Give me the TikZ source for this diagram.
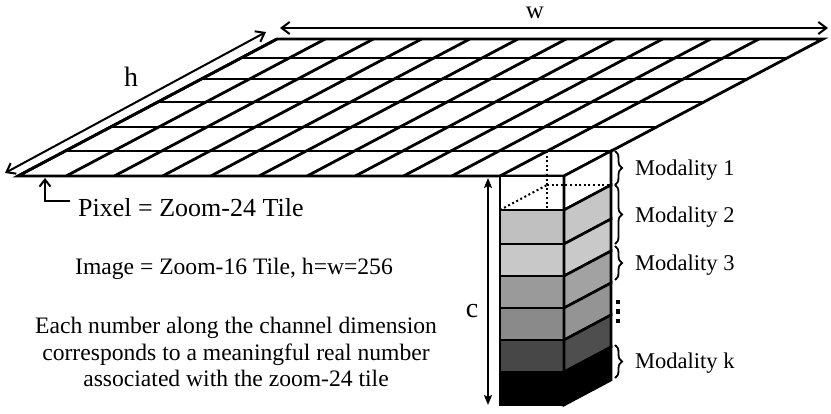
\documentclass[tikz,border=0pt]{standalone}
\usepackage{fontspec}
\setmainfont{Liberation Serif}
\usetikzlibrary{arrows.meta,decorations.pathreplacing,calc}
\definecolor{bA}{HTML}{C0C0C0}
\definecolor{bAs}{HTML}{C6C6C6}
\definecolor{bB}{HTML}{C8C8C8}
\definecolor{bBs}{HTML}{C9C9C9}
\definecolor{bC}{HTML}{9A9A9A}
\definecolor{bCs}{HTML}{A2A2A2}
\definecolor{bD}{HTML}{8A8A8A}
\definecolor{bDs}{HTML}{949494}
\definecolor{bE}{HTML}{474747}
\definecolor{bEs}{HTML}{4E4E4E}
\begin{document}
\begin{tikzpicture}[x=1pt,y=-1pt,
  gridline/.style={line width=2.8pt, line join=miter},
  boxline/.style={line width=2.6pt, line join=miter},
  dotline/.style={line width=2pt, dash pattern=on 2pt off 2.6pt},
  dimarrow/.style={line width=2pt, {Straight Barb[length=8pt,width=12pt]}-{Straight Barb[length=8pt,width=12pt]}},
  carrow/.style={line width=2pt, {Stealth[length=10pt,width=8pt,inset=2pt]}-{Stealth[length=10pt,width=8pt,inset=2pt]}},
  pixarrow/.style={line width=2pt, -{Straight Barb[length=7pt,width=11pt]}},
  bracestyle/.style={line width=1.8pt, decorate, decoration={brace, amplitude=7pt}},
  lab/.style={font=\fontsize{28}{32}\selectfont, inner sep=0pt},
  modtext/.style={font=\fontsize{22.5}{26}\selectfont, anchor=base west, inner sep=0pt},
  bodytext/.style={font=\fontsize{23.6}{26.5}\selectfont, inner sep=0pt}
]
\useasboundingbox (0,0) rectangle (831,414);
% grid columns
\foreach \i in {0,...,10} {
  \draw[gridline] ({18+48.2*\i},176) -- ++(259,-137);
}
% grid rows
\foreach \yy in {39,58,79,102,127,151,176} {
  \draw[gridline] ({18+(176-\yy)/137*259},\yy) -- ({564+(176-\yy)/137*259},\yy);
}
\draw[gridline] (18,176) -- (277,39) -- (823,39) -- (564,176) -- cycle;
% column blocks
\filldraw[boxline, fill=white] (500,176) rectangle (564,210);
\filldraw[boxline, fill=white] (564,176) -- ++(47,-25) -- (611,185) -- (564,210) -- cycle;
\draw[dotline] (547,151) -- (547,210);
\draw[dotline] (547,185) -- (611,185);
\draw[dotline] (500,210) -- (547,185);
\foreach \t/\b/\cf/\cs in {210/244/bA/bAs, 244/276/bB/bBs, 276/308/bC/bCs, 308/340/bD/bDs, 340/372/bE/bEs, 372/405/black/black} {
  \filldraw[boxline, fill=\cf] (500,\t) rectangle (564,\b);
  \filldraw[boxline, fill=\cs] (564,\t) -- (611,{\t-25}) -- (611,{\b-25}) -- (564,\b) -- cycle;
}
% braces
\coordinate (m1a) at (615,151); \coordinate (m1b) at (615,185);
\coordinate (m2a) at (615,185); \coordinate (m2b) at (615,244);
\coordinate (m3a) at (615,246); \coordinate (m3b) at (615,280);
\coordinate (mka) at (615,345); \coordinate (mkb) at (615,378);
\draw[bracestyle] (m1a) -- (m1b);
\draw[bracestyle] (m2a) -- (m2b);
\draw[bracestyle] (m3a) -- (m3b);
\draw[bracestyle] (mka) -- (mkb);
\foreach \yy in {302,311.5,321} {
  \fill (616,\yy-2.2) rectangle (620.4,\yy+2.2);
}
\node[modtext] (mod1) at (635,176) {Modality 1};
\node[modtext] (mod2) at (635,223) {Modality 2};
\node[modtext] (mod3) at (635,271) {Modality 3};
\node[modtext] (modk) at (635,369) {Modality k};
% dimension arrows
\coordinate (h1) at (5,173); \coordinate (h2) at (266,32);
\coordinate (w1) at (280,28); \coordinate (w2) at (828,28);
\coordinate (c1) at (488,178); \coordinate (c2) at (488,405);
\draw[dimarrow] (h1) -- (h2);
\draw[dimarrow] (w1) -- (w2);
\draw[carrow] (c1) -- (c2);
\node[lab] (hl) at (131,77) {h};
\node[lab, font=\fontsize{25}{28}\selectfont, anchor=base] (wl) at (535,19) {w};
\node[lab] (cl) at (472,311) {c};
% pixel label
\coordinate (p0) at (70,201); \coordinate (pc) at (45,201); \coordinate (p1) at (45,178);
\draw[pixarrow] (p0) -- (pc) -- (p1);
\node[font=\fontsize{26}{30}\selectfont, anchor=base west, inner sep=0pt] (pix) at (78,217) {Pixel = Zoom-24 Tile};
\node[bodytext, anchor=base] (img) at (234,275) {Image = Zoom-16 Tile, h=w=256};
\node[bodytext, anchor=north, align=center] (desc) at (236,317) {Each number along the channel dimension\\corresponds to a meaningful real number\\associated with the zoom-24 tile};
\end{tikzpicture}
\end{document}
